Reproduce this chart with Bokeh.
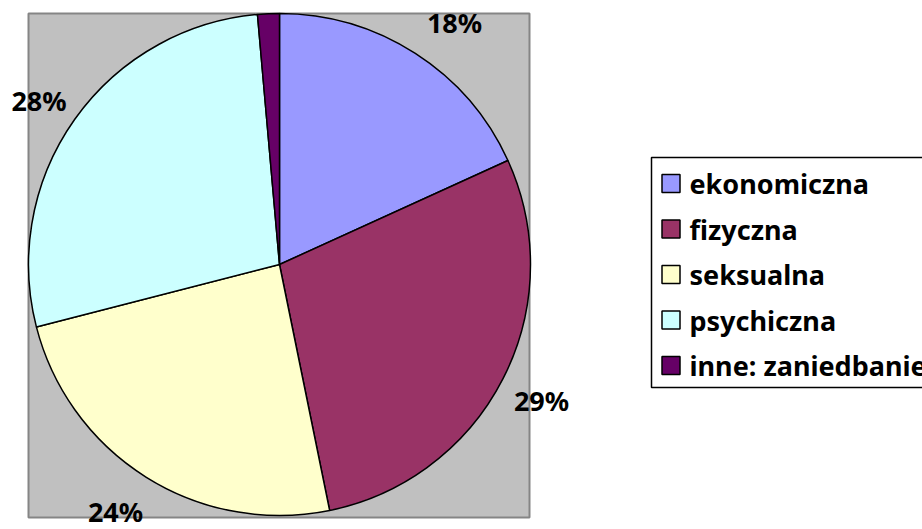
import math
from bokeh.plotting import figure
from bokeh.models import Range1d, ColumnDataSource
from bokeh.core.properties import value
from bokeh.embed import file_html
from bokeh.resources import INLINE

# ---- data ----
categories = ["ekonomiczna", "fizyczna", "seksualna", "psychiczna", "inne: zaniedbanie"]
shares = [18.2, 28.6, 24.2, 27.6, 1.4]
show_label = [True, True, True, True, False]
colors = ["#9999FF", "#993366", "#FFFFCC", "#CCFFFF", "#660066"]

# ---- layout (picture pixel coordinates, y measured downward from top) ----
PIC_H = 529
W, H = 922, 529
CX, CY, R = 279, 264, 251          # pie centre/radius
BOX = (28, 13, 529, 517)           # grey plot area (l, t, r, b)
LABEL_R = 300
LABEL_NUDGE = [(12.7, 10.0), (-5.3, -0.2), (-4.8, -7.5), (4.4, 9.3), (0, 0)]
LEG_BOX = (651, 157, 960, 387)
LEG_ROW0, LEG_STEP = 183, 45.5
LEG_SQ_X, LEG_TXT_X = 670.5, 689
FONT = "Noto Sans"

def Y(pic_y):
    return PIC_H - pic_y

p = figure(width=W, height=H, output_backend="svg", toolbar_location=None,
           x_range=Range1d(0, W), y_range=Range1d(PIC_H - H, PIC_H),
           min_border=0, outline_line_color=None)
p.axis.visible = False
p.grid.visible = False
p.background_fill_color = "white"
p.border_fill_color = "white"

# grey plot area
p.quad(left=[BOX[0]], right=[BOX[2]], top=[Y(BOX[1])], bottom=[Y(BOX[3])],
       fill_color="#C0C0C0", line_color="#858585", line_width=2)

# wedges
total = sum(shares)
starts, ends, mids = [], [], []
cum = 0.0
for v in shares:
    a0 = math.pi / 2 - 2 * math.pi * cum / total
    cum += v
    a1 = math.pi / 2 - 2 * math.pi * cum / total
    starts.append(a0)
    ends.append(a1)
    mids.append((a0 + a1) / 2)

src = ColumnDataSource(dict(cat=categories, start=starts, end=ends, color=colors))
p.wedge(x=CX, y=Y(CY), radius=R, start_angle="start", end_angle="end",
        direction="clock", fill_color="color", line_color="black", line_width=1.5,
        source=src)

# percentage labels
lx, ly, lt = [], [], []
for v, m, show, (dx, dy) in zip(shares, mids, show_label, LABEL_NUDGE):
    if not show:
        continue
    px = CX + LABEL_R * math.cos(m) + dx
    py = CY - LABEL_R * math.sin(m) + dy
    lx.append(px)
    ly.append(Y(py))
    lt.append(f"{round(v)}%")
p.text(x=lx, y=ly, text=lt, text_align="center", text_baseline="middle",
       text_font=value(FONT), text_font_style="bold", text_font_size="27px",
       text_color="black")

# legend
p.quad(left=[LEG_BOX[0]], right=[LEG_BOX[2]], top=[Y(LEG_BOX[1])], bottom=[Y(LEG_BOX[3])],
       fill_color="white", line_color="black", line_width=1.5)
rows = [LEG_ROW0 + i * LEG_STEP for i in range(len(categories))]
p.rect(x=[LEG_SQ_X] * len(rows), y=[Y(r) for r in rows], width=18, height=18,
       width_units="screen", height_units="screen",
       fill_color=colors, line_color="black", line_width=1.5)
p.text(x=[LEG_TXT_X] * len(rows), y=[Y(r) for r in rows], text=categories,
       text_align="left", text_baseline="middle",
       text_font=value(FONT), text_font_style="bold", text_font_size="27px",
       text_color="black")

open("out.html", "w").write(file_html(p, INLINE))
